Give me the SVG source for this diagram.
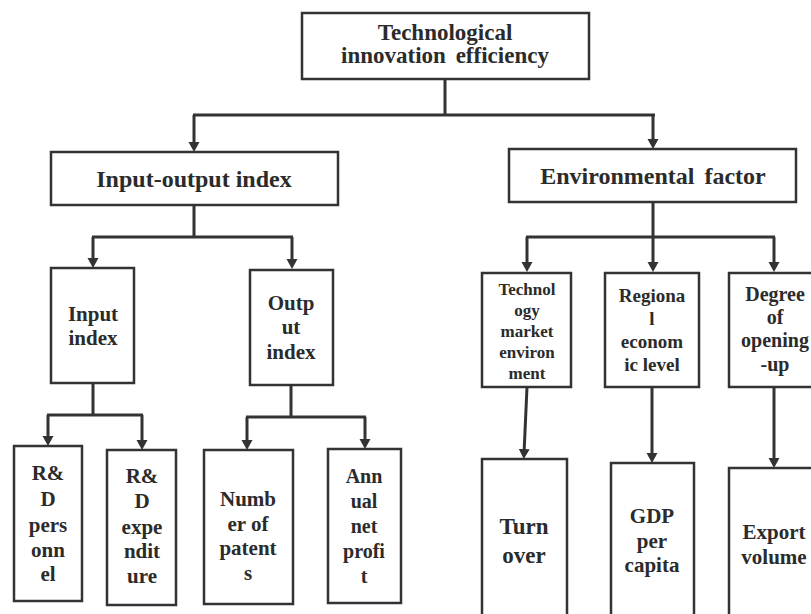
<svg xmlns="http://www.w3.org/2000/svg" width="811" height="614" viewBox="0 0 811 614">
<defs>
<style>
.box{fill:#fff;stroke:#333;stroke-width:2.5}
.t{font-family:"Liberation Serif","Times New Roman",serif;font-weight:bold;fill:#2b2b2b;text-anchor:middle}
.c{fill:none;stroke:#333;stroke-width:3}
</style>
<marker id="ah" markerUnits="userSpaceOnUse" markerWidth="12" markerHeight="12" refX="5" refY="5.5" orient="auto" viewBox="0 0 12 12">
<path d="M0,0 L10,5.5 L0,11 z" fill="#333"/>
</marker>
</defs>
<rect width="811" height="614" fill="#fff"/>
<g id="connectors">
<path class="c" d="M445,79 V115 M193,115 H655"/>
<path class="c" d="M194,115 V147" marker-end="url(#ah)"/>
<path class="c" d="M653,114 V144" marker-end="url(#ah)"/>
<path class="c" d="M194,205 V237 M92,237 H293"/>
<path class="c" d="M93,237 V263" marker-end="url(#ah)"/>
<path class="c" d="M292,237 V264" marker-end="url(#ah)"/>
<path class="c" d="M653,202 V237 M526,237 H775"/>
<path class="c" d="M527,237 V267" marker-end="url(#ah)"/>
<path class="c" d="M653,237 V267" marker-end="url(#ah)"/>
<path class="c" d="M774,237 V267" marker-end="url(#ah)"/>
<path class="c" d="M93,383 V415 M47,415 H143"/>
<path class="c" d="M48,415 V441" marker-end="url(#ah)"/>
<path class="c" d="M142,415 V445" marker-end="url(#ah)"/>
<path class="c" d="M291,385 V417 M246,417 H366"/>
<path class="c" d="M247,417 V445" marker-end="url(#ah)"/>
<path class="c" d="M365,417 V444" marker-end="url(#ah)"/>
<path class="c" d="M527,387 L524,454" marker-end="url(#ah)"/>
<path class="c" d="M652,387 V458" marker-end="url(#ah)"/>
<path class="c" d="M774,387 V463" marker-end="url(#ah)"/>
</g>
<g id="n-top">
<rect class="box" x="302" y="13" width="287" height="66"/>
<text class="t" x="445" y="40" font-size="23">Technological</text>
<text class="t" x="445" y="63" font-size="23" word-spacing="4">innovation efficiency</text>
</g>
<g id="n-io">
<rect class="box" x="51" y="152" width="287" height="53"/>
<text class="t" x="194" y="187" font-size="24">Input-output index</text>
</g>
<g id="n-env">
<rect class="box" x="509" y="149" width="287" height="53"/>
<text class="t" x="653" y="184" font-size="24" word-spacing="4">Environmental factor</text>
</g>
<g id="n-input">
<rect class="box" x="51" y="268" width="83" height="115"/>
<text class="t" x="93" y="321" font-size="21">Input</text>
<text class="t" x="93" y="345" font-size="21">index</text>
</g>
<g id="n-output">
<rect class="box" x="250" y="270" width="83" height="115"/>
<text class="t" x="291" y="310" font-size="21">Outp</text>
<text class="t" x="291" y="334" font-size="21">ut</text>
<text class="t" x="291" y="359" font-size="21">index</text>
</g>
<g id="n-tech">
<rect class="box" x="482" y="273" width="89" height="114"/>
<text class="t" x="527" y="295" font-size="17">Technol</text>
<text class="t" x="527" y="316" font-size="17">ogy</text>
<text class="t" x="527" y="337" font-size="17">market</text>
<text class="t" x="527" y="358" font-size="17">environ</text>
<text class="t" x="527" y="379" font-size="17">ment</text>
</g>
<g id="n-regional">
<rect class="box" x="605" y="273" width="94" height="114"/>
<text class="t" x="652" y="302" font-size="19">Regiona</text>
<text class="t" x="652" y="325" font-size="19">l</text>
<text class="t" x="652" y="348" font-size="19">econom</text>
<text class="t" x="652" y="371" font-size="19">ic level</text>
</g>
<g id="n-degree">
<rect class="box" x="729" y="273" width="100" height="114"/>
<text class="t" x="775" y="301" font-size="20">Degree</text>
<text class="t" x="775" y="324" font-size="20">of</text>
<text class="t" x="775" y="347" font-size="20">opening</text>
<text class="t" x="775" y="371" font-size="20">-up</text>
</g>
<g id="n-rdp">
<rect class="box" x="14" y="446" width="68" height="155"/>
<text class="t" x="48" y="480" font-size="21">R&amp;</text>
<text class="t" x="48" y="506" font-size="21">D</text>
<text class="t" x="48" y="532" font-size="21">pers</text>
<text class="t" x="48" y="557" font-size="21">onn</text>
<text class="t" x="48" y="581" font-size="21">el</text>
</g>
<g id="n-rde">
<rect class="box" x="107" y="450" width="69" height="155"/>
<text class="t" x="142" y="483" font-size="21">R&amp;</text>
<text class="t" x="142" y="508" font-size="21">D</text>
<text class="t" x="142" y="534" font-size="21">expe</text>
<text class="t" x="142" y="558" font-size="21">ndit</text>
<text class="t" x="142" y="583" font-size="21">ure</text>
</g>
<g id="n-patents">
<rect class="box" x="204" y="450" width="89" height="154"/>
<text class="t" x="248" y="506" font-size="21">Numb</text>
<text class="t" x="248" y="531" font-size="21">er of</text>
<text class="t" x="248" y="555" font-size="21">patent</text>
<text class="t" x="248" y="580" font-size="21">s</text>
</g>
<g id="n-profit">
<rect class="box" x="328" y="449" width="73" height="154"/>
<text class="t" x="364" y="483" font-size="20">Ann</text>
<text class="t" x="364" y="508" font-size="20">ual</text>
<text class="t" x="364" y="533" font-size="20">net</text>
<text class="t" x="364" y="558" font-size="20">profi</text>
<text class="t" x="364" y="583" font-size="20">t</text>
</g>
<g id="n-turnover">
<rect class="box" x="482" y="459" width="85" height="180"/>
<text class="t" x="524" y="534" font-size="23">Turn</text>
<text class="t" x="524" y="563" font-size="23">over</text>
</g>
<g id="n-gdp">
<rect class="box" x="611" y="463" width="83" height="180"/>
<text class="t" x="652" y="523" font-size="21">GDP</text>
<text class="t" x="652" y="548" font-size="21">per</text>
<text class="t" x="652" y="572" font-size="21">capita</text>
</g>
<g id="n-export">
<rect class="box" x="729" y="468" width="100" height="180"/>
<text class="t" x="774" y="539" font-size="21">Export</text>
<text class="t" x="774" y="564" font-size="21">volume</text>
</g>
</svg>
